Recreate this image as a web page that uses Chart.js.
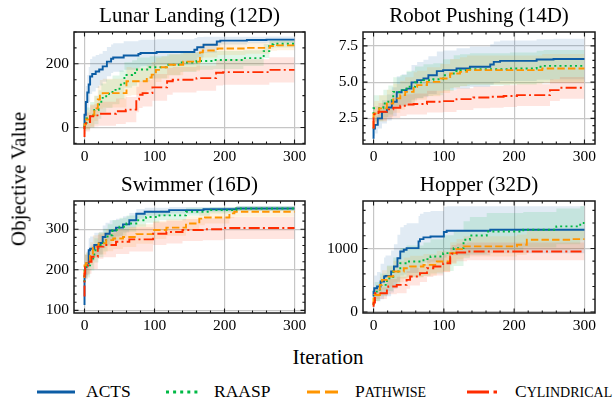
<!DOCTYPE html>
<html>
<head>
<meta charset="utf-8">
<script src="https://cdn.jsdelivr.net/npm/chart.js@4/dist/chart.umd.min.js"></script>
<style>
  html, body { margin: 0; padding: 0; background: #fff; }
  #fig { position: relative; width: 616px; height: 402px; overflow: hidden;
         font-family: "Liberation Serif", serif; color: #000; }
  .panel { position: absolute; display: block; }
  #ylab { position: absolute; left: 19px; top: 179px; font-size: 21px; white-space: nowrap;
          transform: translate(-50%, -50%) rotate(-90deg); line-height: 1; }
  #xlab { position: absolute; left: 328px; top: 357px; font-size: 21px; white-space: nowrap;
          transform: translate(-50%, -50%); line-height: 1; }
  #legsvg { position: absolute; left: 0; top: 380px; }
  .legtxt { position: absolute; top: 392px; font-size: 17.5px; line-height: 1; white-space: nowrap;
            transform: translateY(-50%); }
  .sc { font-variant: small-caps; }
  .sc .low { font-size: 20.5px; line-height: 0; }
</style>
</head>
<body>
<div id="fig">
  <canvas id="c0" class="panel" width="291" height="166" style="left:22px;top:0px;width:291px;height:166px"></canvas>
  <canvas id="c1" class="panel" width="292" height="166" style="left:311px;top:0px;width:292px;height:166px"></canvas>
  <canvas id="c2" class="panel" width="291" height="166" style="left:22px;top:169px;width:291px;height:166px"></canvas>
  <canvas id="c3" class="panel" width="292" height="166" style="left:311px;top:169px;width:292px;height:166px"></canvas>
  <div id="ylab">Objective Value</div>
  <div id="xlab">Iteration</div>
  <svg id="legsvg" width="616" height="22" xmlns="http://www.w3.org/2000/svg">
    <line x1="37" y1="12" x2="75" y2="12" stroke="#0C5DA5" stroke-width="3"/>
    <line x1="166" y1="12" x2="199" y2="12" stroke="#00B945" stroke-width="3" stroke-dasharray="3 4.1"/>
    <line x1="307" y1="12" x2="339" y2="12" stroke="#FF9500" stroke-width="3" stroke-dasharray="13 5"/>
    <line x1="467" y1="12" x2="498" y2="12" stroke="#FF2C00" stroke-width="3" stroke-dasharray="22 4.5 3.5 10"/>
  </svg>
  <span class="legtxt" style="left:86px">ACTS</span>
  <span class="legtxt" style="left:214px">RAASP</span>
  <span class="legtxt sc" style="left:355px">P<span class="low">athwise</span></span>
  <span class="legtxt sc" style="left:515px">C<span class="low">ylindrical</span></span>
</div>

<script>
// ---- shared axis data ----
const methodNames = ['ACTS', 'RAASP', 'Pathwise', 'Cylindrical'];
const panelTitles = ['Lunar Landing (12D)', 'Robot Pushing (14D)', 'Swimmer (16D)', 'Hopper (32D)'];
const iterTicks = [0, 100, 200, 300];
const iterTickLabels = ['0', '100', '200', '300'];
const iterMinorTicks = [20, 40, 60, 80, 120, 140, 160, 180, 220, 240, 260, 280];

// ---- Lunar Landing: [iteration, mean best value, spread] ----
const lunarActs = [[0,-5,15],[2,40,40],[4,80,50],[6,110,55],[8,135,55],[11,160,55],[16,168,55],[21,176,52],[26,182,50],[32,192,48],[38,207,46],[41,216,45],[56,220,45],[77,226,45],[80,231,43],[103,234,42],[157,237,40],[161,244,37],[170,252,32],[189,260,25],[194,270,15],[232,273,12],[260,275,10],[300,276,10]];
const lunarRaasp = [[0,0,10],[3,15,25],[8,28,35],[14,40,40],[20,55,45],[24,72,45],[31,93,45],[40,106,45],[50,118,45],[57,134,45],[68,165,40],[75,171,40],[93,182,38],[118,189,35],[137,197,33],[160,204,30],[184,209,28],[227,212,28],[256,218,25],[264,240,22],[270,262,15],[300,263,12]];
const lunarPathwise = [[0,-5,10],[2,10,20],[8,25,30],[14,38,35],[19,60,40],[22,88,42],[26,104,45],[60,108,45],[67,145,45],[89,145,43],[96,157,40],[102,166,40],[110,181,38],[121,189,35],[141,197,33],[165,207,30],[169,236,25],[190,242,22],[230,248,20],[265,250,18],[275,256,15],[300,258,15]];
const lunarCylindrical = [[0,-30,20],[2,5,25],[8,17,30],[14,35,35],[20,38,35],[45,43,38],[59,51,40],[74,56,40],[78,88,40],[83,103,42],[97,108,42],[118,126,42],[126,145,42],[160,150,40],[188,155,40],[198,172,40],[264,174,40],[275,181,40],[300,181,40]];
const lunarTicks = [0, 200];
const lunarTickLabels = ['0', '200'];
const lunarMinorTicks = [-50, 50, 100, 150, 250, 300];
const lunarRange = [-52, 300];

// ---- Robot Pushing ----
const robotActs = [[0,1.1,0.3],[2,1.8,0.5],[6,2.05,0.6],[12,2.5,0.7],[19,2.95,0.8],[26,3.25,0.9],[33,3.65,1.0],[40,4.3,1.1],[47,4.45,1.1],[54,4.55,1.15],[62,4.98,1.2],[71,5.14,1.25],[78,5.25,1.3],[90,5.48,1.3],[99,5.76,1.35],[118,5.83,1.35],[137,5.94,1.4],[166,6.06,1.4],[171,6.22,1.4],[180,6.4,1.4],[232,6.47,1.4],[256,6.56,1.4],[300,6.6,1.4]];
const robotRaasp = [[0,2.8,0.8],[14,3.2,0.9],[21,3.53,0.95],[28,3.76,1.0],[38,4.33,1.0],[47,4.45,1.05],[59,4.68,1.1],[71,4.98,1.1],[85,5.14,1.1],[99,5.2,1.1],[114,5.48,1.1],[123,5.76,1.1],[137,5.83,1.1],[194,5.89,1.1],[232,5.94,1.1],[242,6.06,1.1],[300,6.12,1.1]];
const robotPathwise = [[0,1.8,0.8],[1,2.78,0.8],[8,2.84,0.85],[19,3.19,0.9],[28,3.53,0.95],[38,3.88,1.0],[45,4.1,1.0],[57,4.33,1.0],[62,4.68,1.0],[76,4.79,1.0],[95,5.02,1.0],[109,5.25,1.0],[123,5.6,1.0],[133,5.71,1.0],[240,5.83,1.0],[262,5.94,1.0],[300,5.94,1.0]];
const robotCylindrical = [[0,1.8,0.4],[1,2.73,0.5],[7,2.78,0.55],[19,2.96,0.6],[28,3.12,0.65],[38,3.23,0.7],[47,3.37,0.7],[57,3.46,0.7],[76,3.49,0.72],[99,3.65,0.75],[118,3.69,0.75],[142,3.83,0.75],[166,3.94,0.75],[185,3.99,0.75],[204,4.04,0.75],[251,4.1,0.75],[265,4.45,0.75],[275,4.61,0.75],[300,4.61,0.75]];
const robotTicks = [2.5, 5.0, 7.5];
const robotTickLabels = ['2.5', '5.0', '7.5'];
const robotMinorTicks = [1.0, 1.5, 2.0, 3.0, 3.5, 4.0, 4.5, 5.5, 6.0, 6.5, 7.0, 8.0];
const robotRange = [0.73, 8.46];

// ---- Swimmer ----
const swimmerActs = [[0,113,20],[1,183,30],[3,207,30],[6,216,30],[8,248,30],[14,252,30],[21,261,30],[26,266,28],[30,281,28],[36,289,27],[45,297,25],[55,304,22],[64,312,20],[74,322,18],[86,338,12],[121,343,10],[170,347,8],[217,349,6],[300,351,6]];
const swimmerRaasp = [[0,170,25],[2,207,30],[8,211,30],[14,228,30],[20,248,30],[27,261,30],[33,273,28],[40,285,27],[50,298,25],[60,306,22],[74,314,20],[88,322,16],[107,330,14],[145,334,12],[179,343,10],[217,347,8],[300,351,6]];
const swimmerPathwise = [[0,180,25],[2,211,28],[8,216,28],[12,240,28],[20,257,28],[31,265,27],[41,273,27],[55,277,26],[74,281,25],[98,288,24],[117,298,22],[145,304,20],[164,314,18],[172,326,16],[207,329,15],[214,339,12],[300,343,12]];
const swimmerCylindrical = [[0,134,25],[1,191,30],[5,207,30],[10,220,30],[19,232,30],[27,257,30],[45,261,30],[64,269,30],[98,275,30],[117,289,28],[140,293,28],[169,298,27],[199,300,27],[285,303,27],[300,303,27]];
const swimmerTicks = [100, 200, 300];
const swimmerTickLabels = ['100', '200', '300'];
const swimmerMinorTicks = [120, 140, 160, 180, 220, 240, 260, 280, 320, 340, 360];
const swimmerRange = [93.6, 369.5];

// ---- Hopper ----
const hopperActs = [[0,242,100],[1,321,150],[5,374,200],[10,400,230],[15,479,280],[17,558,300],[25,568,320],[29,637,330],[34,716,350],[38,847,370],[43,953,380],[47,979,390],[64,1005,390],[66,1111,400],[71,1147,400],[81,1174,400],[100,1189,400],[104,1258,400],[166,1279,385],[213,1295,370],[300,1295,370]];
const hopperRaasp = [[0,110,60],[2,189,100],[9,321,150],[19,426,180],[28,532,200],[38,637,220],[47,768,240],[71,795,250],[81,832,260],[99,874,270],[114,926,280],[128,1005,280],[137,1137,290],[161,1205,290],[213,1268,290],[260,1295,280],[294,1347,280],[299,1400,270],[300,1400,270]];
const hopperPathwise = [[0,110,50],[1,242,80],[9,268,100],[12,426,130],[19,505,150],[28,558,160],[43,637,170],[52,689,170],[71,716,170],[90,742,170],[109,795,170],[118,926,170],[128,989,160],[204,1032,160],[218,1058,160],[280,1137,160],[300,1147,160]];
const hopperCylindrical = [[0,84,40],[2,147,60],[19,295,90],[21,374,110],[33,400,120],[47,426,130],[52,505,140],[66,558,140],[76,611,140],[85,689,140],[99,716,140],[109,768,140],[111,874,140],[118,916,140],[133,937,140],[300,953,140]];
const hopperTicks = [0, 1000];
const hopperTickLabels = ['0', '1000'];
const hopperMinorTicks = [200, 400, 600, 800, 1200, 1400, 1600];
const hopperRange = [-16, 1747];

// ---- styling ----
const FONT = 'Liberation Serif';
const lineColors = ['#0C5DA5', '#00B945', '#FF9500', '#FF2C00'];
const bandColors = ['rgba(12,93,165,0.12)', 'rgba(0,185,69,0.12)', 'rgba(255,149,0,0.12)', 'rgba(255,44,0,0.12)'];
const dashes = [[], [2, 3.2], [7.4, 3.2], [11, 3.2, 2, 3.2]];

Chart.defaults.font.family = FONT;
Chart.defaults.color = '#000';

// frame and inward major/minor tick marks on all four sides
const frameTicks = {
  id: 'frameTicks',
  afterDraw(chart, args, o) {
    const { ctx, chartArea: a, scales } = chart;
    const x = scales.x, y = scales.y;
    ctx.save();
    ctx.strokeStyle = '#1a1a1a';
    ctx.lineWidth = 1.1;
    ctx.beginPath();
    const tick = (len, vals, horiz) => {
      vals.forEach(v => {
        if (horiz) {
          const p = x.getPixelForValue(v);
          ctx.moveTo(p, a.bottom); ctx.lineTo(p, a.bottom - len);
          ctx.moveTo(p, a.top); ctx.lineTo(p, a.top + len);
        } else {
          const p = y.getPixelForValue(v);
          ctx.moveTo(a.left, p); ctx.lineTo(a.left + len, p);
          ctx.moveTo(a.right, p); ctx.lineTo(a.right - len, p);
        }
      });
    };
    tick(4.5, o.xMajor, true);
    tick(2.6, o.xMinor, true);
    tick(4.5, o.yMajor, false);
    tick(2.6, o.yMinor, false);
    ctx.stroke();
    ctx.lineWidth = 1.5;
    ctx.strokeRect(a.left, a.top, a.right - a.left, a.bottom - a.top);
    ctx.restore();
  }
};

function makePanel(id, title, series, range, yTicks, yTickLabels, yMinor) {
  const datasets = [];
  series.forEach((s, i) => {
    datasets.push({
      label: methodNames[i] + ' upper',
      data: s.map(p => ({ x: p[0], y: p[1] + p[2] })),
      stepped: 'after', borderWidth: 0, pointRadius: 0,
      backgroundColor: bandColors[i], fill: '+1', order: 20 - i
    });
    datasets.push({
      label: methodNames[i] + ' lower',
      data: s.map(p => ({ x: p[0], y: p[1] - p[2] })),
      stepped: 'after', borderWidth: 0, pointRadius: 0, fill: false, order: 20 - i
    });
  });
  series.forEach((s, i) => {
    datasets.push({
      label: methodNames[i],
      data: s.map(p => ({ x: p[0], y: p[1] })),
      stepped: 'after', borderColor: lineColors[i], borderWidth: 1.9,
      borderDash: dashes[i], borderCapStyle: 'butt', pointRadius: 0, fill: false,
      order: 5 - i
    });
  });

  const tickFont = { family: FONT, size: 15.5 };
  new Chart(document.getElementById(id), {
    type: 'line',
    data: { datasets },
    plugins: [frameTicks],
    options: {
      responsive: false, animation: false, devicePixelRatio: 1,
      layout: { padding: { left: 0, right: 8, top: 4, bottom: 0 } },
      plugins: {
        legend: { display: false },
        tooltip: { enabled: false },
        title: {
          display: true, text: title, color: '#000', fullSize: false,
          font: { family: FONT, size: 21, weight: 'normal', lineHeight: 1.15 },
          padding: { top: 0, bottom: 3.85 }
        },
        frameTicks: { xMajor: iterTicks, xMinor: iterMinorTicks, yMajor: yTicks, yMinor: yMinor }
      },
      scales: {
        x: {
          type: 'linear', min: -15, max: 315,
          afterBuildTicks: ax => { ax.ticks = iterTicks.map(v => ({ value: v })); },
          afterFit: ax => { ax.height = 22; },
          grid: { color: '#c6c6c6', lineWidth: 1.2, drawTicks: false },
          border: { display: false },
          ticks: { font: tickFont, color: '#000', padding: 4, maxRotation: 0, autoSkip: false,
                   callback: (v, i) => iterTickLabels[i] }
        },
        y: {
          type: 'linear', min: range[0], max: range[1],
          afterBuildTicks: ax => { ax.ticks = yTicks.map(v => ({ value: v })); },
          afterFit: ax => { ax.width = 52; },
          grid: { color: '#c6c6c6', lineWidth: 1.2, drawTicks: false },
          border: { display: false },
          ticks: { font: tickFont, color: '#000', padding: 5, autoSkip: false,
                   callback: (v, i) => yTickLabels[i] }
        }
      }
    }
  });
}

makePanel('c0', panelTitles[0], [lunarActs, lunarRaasp, lunarPathwise, lunarCylindrical],
          lunarRange, lunarTicks, lunarTickLabels, lunarMinorTicks);
makePanel('c1', panelTitles[1], [robotActs, robotRaasp, robotPathwise, robotCylindrical],
          robotRange, robotTicks, robotTickLabels, robotMinorTicks);
makePanel('c2', panelTitles[2], [swimmerActs, swimmerRaasp, swimmerPathwise, swimmerCylindrical],
          swimmerRange, swimmerTicks, swimmerTickLabels, swimmerMinorTicks);
makePanel('c3', panelTitles[3], [hopperActs, hopperRaasp, hopperPathwise, hopperCylindrical],
          hopperRange, hopperTicks, hopperTickLabels, hopperMinorTicks);
</script>
</body>
</html>
